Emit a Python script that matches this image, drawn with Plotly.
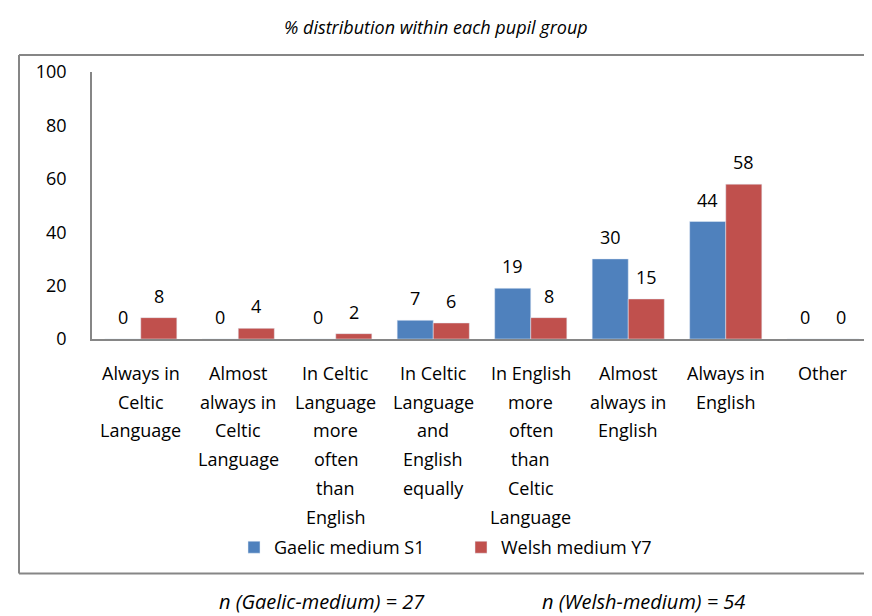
import plotly.graph_objects as go

categories = [
    "Always in Celtic Language",
    "Almost always in Celtic Language",
    "In Celtic Language more often than English",
    "In Celtic Language and English equally",
    "In English more often than Celtic Language",
    "Almost always in English",
    "Always in English",
    "Other",
]
tick_lines = [
    ["Always in", "Celtic", "Language"],
    ["Almost", "always in", "Celtic", "Language"],
    ["In Celtic", "Language", "more", "often", "than", "English"],
    ["In Celtic", "Language", "and", "English", "equally"],
    ["In English", "more", "often", "than", "Celtic", "Language"],
    ["Almost", "always in", "English"],
    ["Always in", "English"],
    ["Other"],
]
gaelic_s1 = [0, 0, 0, 7, 19, 30, 44, 0]
welsh_y7 = [8, 4, 2, 6, 8, 15, 58, 0]
series_names = ["Gaelic medium S1", "Welsh medium Y7"]
y_ticks = [0, 20, 40, 60, 80, 100]

FONT = "Open Sans"
BLUE = "#4F81BD"
RED = "#C0504D"
GREY = "#868686"
FS = 18

# The page body adds an 8px margin, so the figure sits 8px in from the window corner.
W, H = 864, 608
OFF = 8
L, T = 84, 64           # plot area left / top in figure px
PW = W - L              # plot width
PH = 266.7              # plot height
CAT_PX = 97.5           # category width in px

def px(x_ref):
    return (x_ref - OFF - L) / PW

def py(y_ref):
    return (T + PH - (y_ref - OFF)) / PH

fig = go.Figure()
fig.add_trace(go.Bar(x=categories, y=gaelic_s1, name=series_names[0], marker_color=BLUE))
fig.add_trace(go.Bar(x=categories, y=welsh_y7, name=series_names[1], marker_color=RED))

txt = dict(family=FONT, size=FS, color="#000")
ann = []
for vals, shift in ((gaelic_s1, -18), (welsh_y7, 18)):
    for c, v in zip(categories, vals):
        ann.append(dict(x=c, y=v, xref="x", yref="y", text=str(v), showarrow=False,
                        xanchor="center", yanchor="middle",
                        xshift=shift, yshift=22, font=txt))
for c, lines in zip(categories, tick_lines):
    for i, ln in enumerate(lines):
        ann.append(dict(x=c, y=0, xref="x", yref="y", text=ln, showarrow=False,
                        xanchor="center", yanchor="middle",
                        yshift=-34 - i * 28.7, font=txt))
for x_ref, y_ref, s, fs in ((436, 27, "% distribution within each pupil group", 18),
                            (322, 601, "n (Gaelic-medium) = 27", 20),
                            (643, 601, "n (Welsh-medium) = 54", 20)):
    ann.append(dict(x=px(x_ref), y=py(y_ref), xref="paper", yref="paper",
                    text="<i>" + s + "</i>", showarrow=False,
                    xanchor="center", yanchor="middle", font=dict(txt, size=fs)))

# chart-area border: left, top and bottom edges (right edge lies beyond the picture)
bx0, bx1, by0, by1 = px(19), px(930), py(573), py(55)
border = dict(type="line", xref="paper", yref="paper", line=dict(color=GREY, width=2), layer="below")
shapes = [dict(border, x0=bx0, x1=bx0, y0=by0, y1=by1),
          dict(border, x0=bx0, x1=bx1, y0=by1, y1=by1),
          dict(border, x0=bx0, x1=bx1, y0=by0, y1=by0)]

fig.update_layout(
    width=W, height=H,
    margin=dict(l=L, r=0, t=T, b=H - T - PH, pad=0, autoexpand=False),
    paper_bgcolor="white", plot_bgcolor="white",
    barmode="group", bargap=0.26, bargroupgap=0,
    font=txt,
    showlegend=True,
    legend=dict(orientation="h", x=px(234), xanchor="left",
                y=py(547), yanchor="middle",
                entrywidth=182, font=txt, itemclick=False, itemdoubleclick=False),
    annotations=ann,
    shapes=shapes,
)
fig.update_xaxes(type="category", range=[-0.5, -0.5 + PW / CAT_PX],
                 showticklabels=False, showline=True, linecolor=GREY, linewidth=2,
                 ticks="", showgrid=False, zeroline=False)
fig.update_yaxes(range=[0, 100], tickvals=y_ticks, showline=True, linecolor=GREY, linewidth=1.5,
                 ticks="", showgrid=False, zeroline=False, ticklabelstandoff=20,
                 tickfont=txt)

fig.write_html("out.html")
